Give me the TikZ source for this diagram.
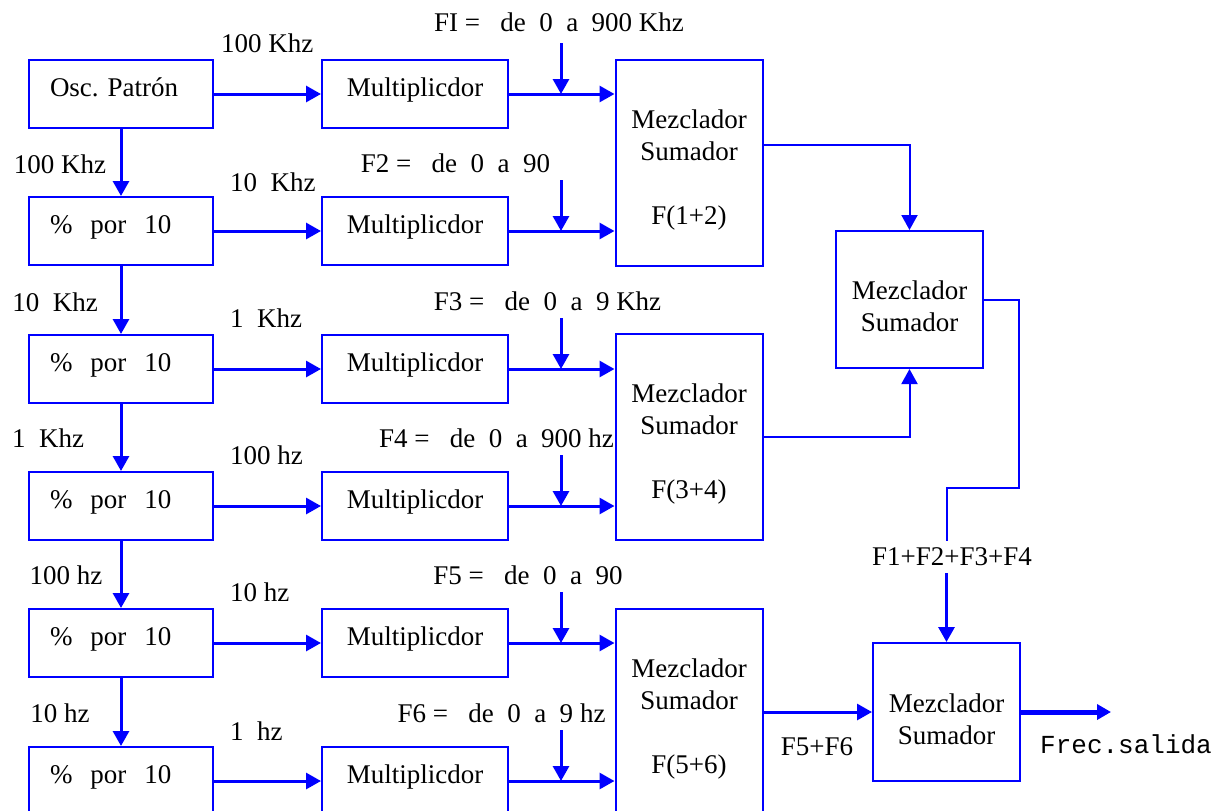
\documentclass[tikz,border=0pt]{standalone}
\usepackage{fontspec}
\setmainfont{Liberation Serif}
\setmonofont{Liberation Mono}
\usetikzlibrary{arrows.meta, positioning}

\begin{document}
\begin{tikzpicture}[
        x=0.5pt, y=-0.5pt,
        font=\fontsize{13.5}{16}\selectfont,
        >={Triangle[length=7.5pt, width=8pt]},
        block/.style={draw=blue, line width=1pt, minimum height=34pt, text height=0.7em, text depth=0.48em},
        divbox/.style={block, text width=71pt, inner xsep=10.5pt, align=left},
        multbox/.style={block, minimum width=93pt},
        mixer/.style={draw=blue, line width=1pt, minimum width=73.5pt, align=center},
        flow/.style={->, draw=blue, line width=1.5pt},
        link/.style={->, draw=blue, line width=1pt}]

    \useasboundingbox (0,0) rectangle (1215,810);

    \node[divbox] (osc) at (121,94) {Osc.\ Patrón};
    \node[divbox] (div2) at (121,231) {\%\ \ por\ \ 10};
    \node[divbox] (div3) at (121,369) {\%\ \ por\ \ 10};
    \node[divbox] (div4) at (121,506) {\%\ \ por\ \ 10};
    \node[divbox] (div5) at (121,643) {\%\ \ por\ \ 10};
    \node[divbox] (div6) at (121,781) {\%\ \ por\ \ 10};

    \node[multbox] (mult1) at (415,94) {Multiplicdor};
    \node[multbox] (mult2) at (415,231) {Multiplicdor};
    \node[multbox] (mult3) at (415,369) {Multiplicdor};
    \node[multbox] (mult4) at (415,506) {Multiplicdor};
    \node[multbox] (mult5) at (415,643) {Multiplicdor};
    \node[multbox] (mult6) at (415,781) {Multiplicdor};

    \node[mixer, minimum height=103pt] (mix12) at (689,162.5) {\rule{0pt}{16.5pt}Mezclador\\Sumador\\[16pt]F(1+2)};
    \node[mixer, minimum height=103pt] (mix34) at (689,437) {\rule{0pt}{16.5pt}Mezclador\\Sumador\\[16pt]F(3+4)};
    \node[mixer, minimum height=103pt] (mix56) at (689,712) {\rule{0pt}{16.5pt}Mezclador\\Sumador\\[16pt]F(5+6)};
    \node[mixer, minimum height=68.5pt] (mixA) at (909.5,299.5) {\rule{0pt}{16.5pt}Mezclador\\Sumador};
    \node[mixer, minimum height=69pt] (mixF) at (946.5,712) {\rule{0pt}{16.5pt}Mezclador\\Sumador};

    \node (fdiv2) at (60,164) {100 Khz};
    \node (fdiv3) at (55,302) {10\ \ Khz};
    \node (fdiv4) at (48,438) {1\ \ Khz};
    \node (fdiv5) at (66,575) {100 hz};
    \node (fdiv6) at (60,713) {10 hz};

    \node[anchor=west] (fout1) at (214,43) {100 Khz};
    \node[anchor=west] (fout2) at (223,182) {10\ \ Khz};
    \node[anchor=west] (fout3) at (223,318) {1\ \ Khz};
    \node[anchor=west] (fout4) at (223,455) {100 hz};
    \node[anchor=west] (fout5) at (223,592) {10 hz};
    \node[anchor=west] (fout6) at (223,731) {1\ \ hz};

    \node (rng1) at (559,22) {FI =\ \ \ de\ \ 0\ \ a\ \ 900 Khz};
    \node (rng2) at (455.5,163) {F2 =\ \ \ de\ \ 0\ \ a\ \ 90};
    \node (rng3) at (547.5,301) {F3 =\ \ \ de\ \ 0\ \ a\ \ 9 Khz};
    \node (rng4) at (496.5,438) {F4 =\ \ \ de\ \ 0\ \ a\ \ 900 hz};
    \node (rng5) at (528,575) {F5 =\ \ \ de\ \ 0\ \ a\ \ 90};
    \node (rng6) at (501.5,713) {F6 =\ \ \ de\ \ 0\ \ a\ \ 9 hz};

    \coordinate (inj1) at (561,43);
    \coordinate (inj2) at (561,180);
    \coordinate (inj3) at (561,318);
    \coordinate (inj4) at (561,455);
    \coordinate (inj5) at (561,592);
    \coordinate (inj6) at (561,730);

    \draw[flow] (osc) -- (div2);
    \draw[flow] (div2) -- (div3);
    \draw[flow] (div3) -- (div4);
    \draw[flow] (div4) -- (div5);
    \draw[flow] (div5) -- (div6);

    \draw[flow] (osc) -- (mult1);
    \draw[flow] (div2) -- (mult2);
    \draw[flow] (div3) -- (mult3);
    \draw[flow] (div4) -- (mult4);
    \draw[flow] (div5) -- (mult5);
    \draw[flow] (div6) -- (mult6);

    \draw[flow] (mult1.east) -- (mult1.east -| mix12.west);
    \draw[flow] (mult2.east) -- (mult2.east -| mix12.west);
    \draw[flow] (mult3.east) -- (mult3.east -| mix34.west);
    \draw[flow] (mult4.east) -- (mult4.east -| mix34.west);
    \draw[flow] (mult5.east) -- (mult5.east -| mix56.west);
    \draw[flow] (mult6.east) -- (mult6.east -| mix56.west);

    \draw[flow] (inj1) -- (inj1 |- mult1.east);
    \draw[flow] (inj2) -- (inj2 |- mult2.east);
    \draw[flow] (inj3) -- (inj3 |- mult3.east);
    \draw[flow] (inj4) -- (inj4 |- mult4.east);
    \draw[flow] (inj5) -- (inj5 |- mult5.east);
    \draw[flow] (inj6) -- (inj6 |- mult6.east);

    \draw[link] ([yshift=8.75pt]mix12.east) -| (mixA.north);
    \draw[link] (mix34.east) -| (mixA.south);

    \node (sum) at (952,557) {F1+F2+F3+F4};
    \coordinate (bend) at (1019,488);
    \draw[draw=blue, line width=1pt] (mixA.east) -| (bend) -| (sum.north -| mixF.north);
    \draw[flow] (sum.south -| mixF.north) -- (mixF.north);

    \draw[flow] (mix56) -- (mixF);
    \node (f56) at (817,747) {F5+F6};

    \coordinate (out) at (1111,712);
    \draw[->, draw=blue, line width=2.5pt, >={Triangle[length=7pt, width=7.5pt]}] (mixF) -- (out);
    \node[font=\fontsize{13}{16}\ttfamily] (salida) at (1126,744) {Frec.salida};

\end{tikzpicture}
\end{document}
